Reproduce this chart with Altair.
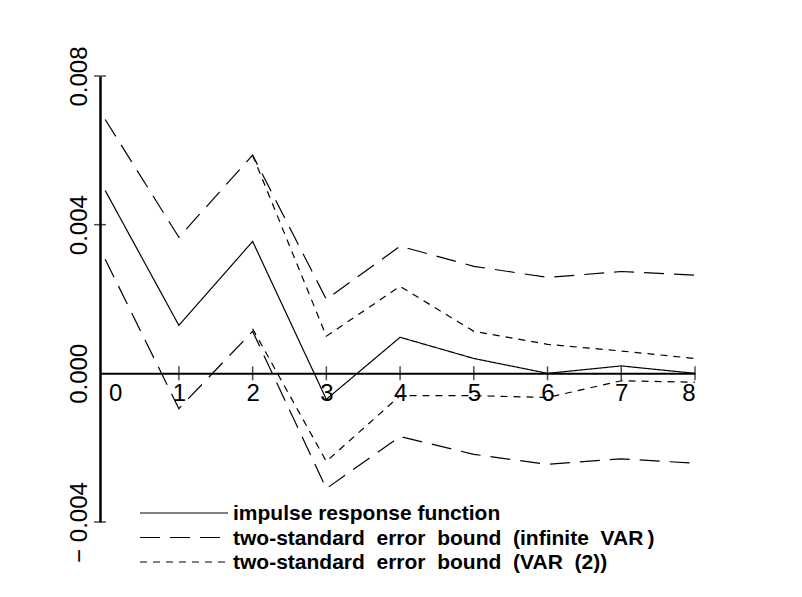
import altair as alt
import pandas as pd

# ---- data ----
horizon = [0, 1, 2, 3, 4, 5, 6, 7, 8]
irf = [0.00492, 0.00129, 0.00355, -0.0007, 0.00097, 0.0004, 0.0, 0.0002, 0.0]
inf_upper = [0.00683, 0.00366, 0.00587, 0.00199, 0.00342, 0.00288, 0.00258, 0.00274, 0.00264]
inf_lower = [0.00307, -0.00095, 0.00113, -0.0031, -0.0017, -0.00218, -0.00245, -0.0023, -0.00242]
var2_horizon = [2, 3, 4, 5, 6, 7, 8]
var2_upper = [0.00587, 0.001, 0.00234, 0.00113, 0.00078, 0.0006, 0.0004]
var2_lower = [0.0012, -0.00237, -0.0006, -0.0006, -0.00065, -0.0002, -0.00024]

series_names = [
    "impulse response function",
    "two-standard error bound (infinite VAR)",
    "two-standard error bound (VAR(2))",
]
legend_labels = [
    "impulse response function",
    "two-standard\u2007error\u2007bound\u2007(infinite\u2007VAR\u2009)",
    "two-standard\u2007error\u2007bound\u2007(VAR\u2007(2))",
]
dash_styles = [[1, 0], [20, 10], [7, 6]]
x_ticks = [1, 2, 3, 4, 5, 6, 7, 8]
y_ticks = [-0.004, 0.0, 0.004, 0.008]
y_small_ticks = [-0.004, 0.004, 0.008]

X_MIN = -0.07

rows = []
for h, v in zip(horizon, irf):
    rows.append(dict(h=h, v=v, s=series_names[0], line="irf"))
for h, v in zip(horizon, inf_upper):
    rows.append(dict(h=h, v=v, s=series_names[1], line="inf_u"))
for h, v in zip(horizon, inf_lower):
    rows.append(dict(h=h, v=v, s=series_names[1], line="inf_l"))
for h, v in zip(var2_horizon, var2_upper):
    rows.append(dict(h=h, v=v, s=series_names[2], line="var_u"))
for h, v in zip(var2_horizon, var2_lower):
    rows.append(dict(h=h, v=v, s=series_names[2], line="var_l"))
df = pd.DataFrame(rows)

W, H = 595, 446
FONT = "Liberation Sans"

xscale = alt.Scale(domain=[X_MIN, 8], nice=False, zero=False)
yscale = alt.Scale(domain=[-0.004, 0.008], nice=False, zero=False)

x_axis = alt.Axis(
    values=[0, 1, 2, 3, 4, 5, 6, 7, 8], format="d",
    offset=-H * (0.004 / 0.012),
    ticks=False, tickSize=0, grid=False, title=None,
    domainColor="black", domainWidth=2,
    labelFont=FONT, labelFontSize=24, labelColor="black",
    labelPadding=8,
    labelOffset={"condition": {"test": "datum.value == 0", "value": 10}, "value": 0},
)
y_axis = alt.Axis(
    values=y_ticks,
    labelExpr="datum.value < 0 ? '\u2212 ' + format(abs(datum.value), '.3f') : format(datum.value, '.3f')",
    ticks=False, tickSize=0, grid=False, title=None,
    domainColor="black", domainWidth=2.5,
    labelFont=FONT, labelFontSize=24, labelColor="black",
    labelAngle=270, labelPadding=9,
)

lines = alt.Chart(df).mark_line(color="black", strokeWidth=1.2).encode(
    x=alt.X("h:Q", scale=xscale, axis=x_axis),
    y=alt.Y("v:Q", scale=yscale, axis=y_axis),
    detail="line:N",
    strokeDash=alt.StrokeDash(
        "s:N",
        scale=alt.Scale(domain=series_names, range=dash_styles),
        legend=None,
    ),
)

xt = pd.DataFrame({"h": x_ticks, "v": [0.0] * len(x_ticks)})
x_tick_marks = alt.Chart(xt).mark_tick(orient="vertical", color="black", size=14, thickness=1.5).encode(
    x=alt.X("h:Q", scale=xscale), y=alt.Y("v:Q", scale=yscale)
)
yt = pd.DataFrame({"h": [X_MIN] * len(y_small_ticks), "v": y_small_ticks})
y_tick_marks = alt.Chart(yt).mark_tick(orient="horizontal", color="black", size=12, thickness=1.5).encode(
    x=alt.X("h:Q", scale=xscale), y=alt.Y("v:Q", scale=yscale)
)

# ---- legend drawn inside the plot (bottom-left) ----
legend_layers = []
for i, (lab, dash) in enumerate(zip(legend_labels, dash_styles)):
    ypix = 437 + 24.5 * i
    one = pd.DataFrame({"label": [lab]})
    legend_layers.append(
        alt.Chart(one).mark_rule(color="black", strokeWidth=1.2, strokeDash=dash).encode(
            x=alt.value(40), x2=alt.value(128), y=alt.value(ypix)
        )
    )
    legend_layers.append(
        alt.Chart(one).mark_text(
            align="left", baseline="middle", font=FONT, fontSize=21, fontWeight="bold", color="black"
        ).encode(x=alt.value(133), y=alt.value(ypix + 1), text="label:N")
    )

chart = alt.layer(lines, x_tick_marks, y_tick_marks, *legend_layers).properties(
    width=W, height=H,
    padding={"left": 92, "top": 68, "right": 99, "bottom": 67},
    autosize=alt.AutoSizeParams(type="none"),
).configure(background="white", view=alt.ViewConfig(stroke="transparent", strokeWidth=0))

chart.save("out.html", embed_options={"renderer": "svg", "actions": False})
